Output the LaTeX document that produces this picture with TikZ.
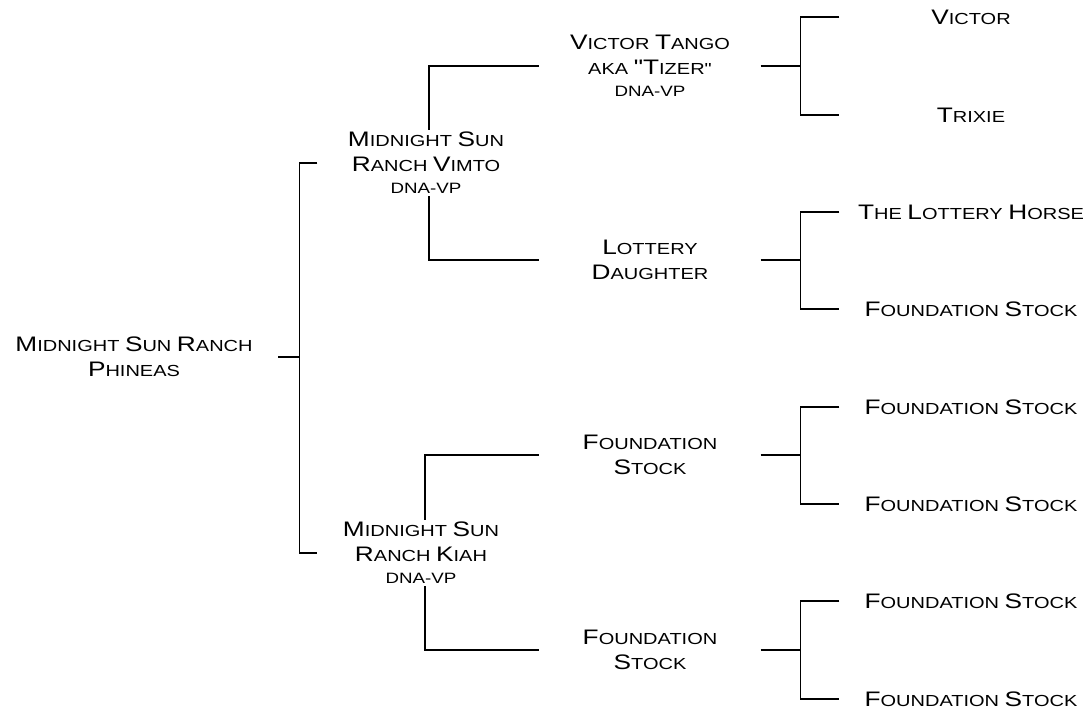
\documentclass[tikz,border=0pt]{standalone}
\usepackage{fontspec}
\newfontfamily\cpfont[FakeStretch=1.25]{Liberation Sans}
\usetikzlibrary{positioning}
\newcommand{\B}[1]{{\fontsize{21}{25}\selectfont #1}}
\newcommand{\dna}{{\fontsize{15}{22}\selectfont DNA-VP}}
\tikzset{
    every picture/.style = {
        x = 1pt,
        y = -1pt,
        line width = 1.1pt
    },
    horse/.style = {
        font = \cpfont\fontsize{16}{25}\selectfont,
        align = center,
        inner sep = 2pt
    },
    sire/.style = {horse, minimum width = 216pt},
    mid/.style = {horse, minimum width = 220pt},
    leaf/.style = {horse, minimum width = 262pt}
}

\begin{document}
\begin{tikzpicture}
    \useasboundingbox (0, 0) rectangle (1090, 711);

    \node[horse] (root) at (134, 357) {\B{M}IDNIGHT \B{S}UN \B{R}ANCH\\\B{P}HINEAS};

    \node[sire] (vimto) at (426, 163) {\B{M}IDNIGHT \B{S}UN\\\B{R}ANCH \B{V}IMTO\\[-3pt]\dna};
    \node[sire, minimum width = 206pt] (kiah) at (421, 553) {\B{M}IDNIGHT \B{S}UN\\\B{R}ANCH \B{K}IAH\\[-3pt]\dna};

    \node[mid] (tango) at (650, 66) {\B{V}ICTOR \B{T}ANGO\\AKA \B{"T}IZER"\\[-3pt]\dna};
    \node[mid] (lottery) at (650, 260) {\B{L}OTTERY\\\B{D}AUGHTER};
    \node[mid] (founda) at (650, 455) {\B{F}OUNDATION\\\B{S}TOCK};
    \node[mid] (foundb) at (650, 650) {\B{F}OUNDATION\\\B{S}TOCK};

    \node[leaf] (victor) at (971, 17) {\B{V}ICTOR};
    \node[leaf] (trixie) at (971, 115) {\B{T}RIXIE};
    \node[leaf] (lhorse) at (971, 212) {\B{T}HE \B{L}OTTERY \B{H}ORSE};
    \node[leaf] (fsa) at (971, 309) {\B{F}OUNDATION \B{S}TOCK};
    \node[leaf] (fsb) at (971, 407) {\B{F}OUNDATION \B{S}TOCK};
    \node[leaf] (fsc) at (971, 504) {\B{F}OUNDATION \B{S}TOCK};
    \node[leaf] (fsd) at (971, 601) {\B{F}OUNDATION \B{S}TOCK};
    \node[leaf] (fse) at (971, 699) {\B{F}OUNDATION \B{S}TOCK};

    % root fork
    \draw ([xshift = 23pt]root.east) -- ++(21, 0) coordinate (r);
    \draw (vimto.west) -| (r) |- (kiah.west);

    % sire and dam forks
    \draw ([xshift = 3pt]vimto.north) |- (tango.west);
    \draw ([xshift = 3pt]vimto.south) |- (lottery.west);
    \draw ([xshift = 4pt]kiah.north) |- (founda.west);
    \draw ([xshift = 4pt]kiah.south) |- (foundb.west);

    % grandparent forks
    \foreach \m/\a/\b in {tango/victor/trixie, lottery/lhorse/fsa, founda/fsb/fsc, foundb/fsd/fse} {
        \draw (\m.east) -- ++(40, 0) coordinate (j);
        \draw (\a.west) -| (j) |- (\b.west);
    }
\end{tikzpicture}
\end{document}
